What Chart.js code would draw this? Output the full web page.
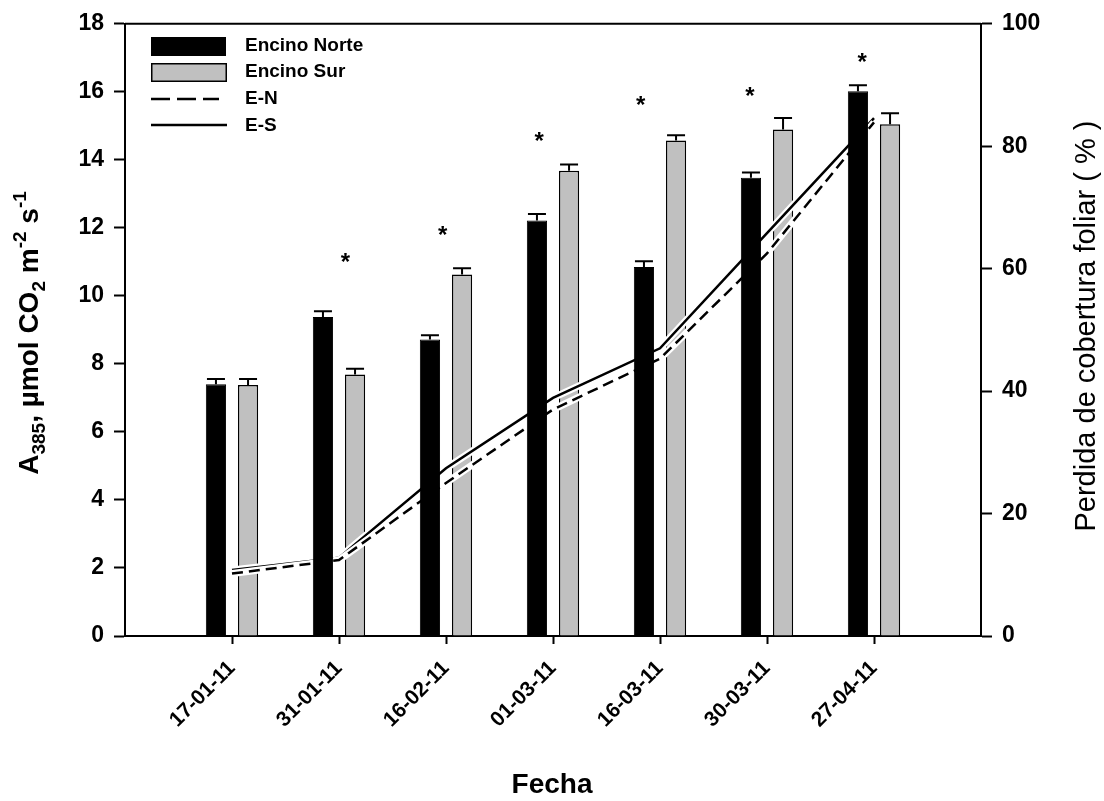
<!DOCTYPE html>
<html><head><meta charset="utf-8">
<script src="https://cdn.jsdelivr.net/npm/chart.js@4.4.1/dist/chart.umd.min.js"></script>
<style>html,body{margin:0;padding:0;background:#fff;}#wrap{width:1104px;height:801px;}</style>
</head><body><div id="wrap"><canvas id="c" width="1104" height="801"></canvas></div>
<script>
// Fechas de muestreo
const fechas = ['17-01-11', '31-01-11', '16-02-11', '01-03-11', '16-03-11', '30-03-11', '27-04-11'];
// Asimilación A385 (µmol CO2 m-2 s-1) y error estándar
const encinoNorte = [7.40, 9.38, 8.72, 12.22, 10.85, 13.47, 16.02];
const encinoNorteErr = [0.16, 0.17, 0.12, 0.19, 0.17, 0.16, 0.17];
const encinoSur = [7.38, 7.69, 10.63, 13.68, 14.57, 14.89, 15.05];
const encinoSurErr = [0.18, 0.17, 0.18, 0.18, 0.15, 0.34, 0.32];
// Pérdida de cobertura foliar (%)
const perdidaEN = [10.2, 12.4, 25.0, 37.0, 45.3, 62.5, 83.9];
const perdidaES = [10.8, 12.8, 27.4, 38.9, 47.0, 65.8, 84.6];
// Diferencias significativas (*)
const asteriscoX = [2.06, 2.97, 3.87, 4.82, 5.84, 6.89];
const asteriscoY = [11.16, 11.97, 14.73, 15.79, 16.05, 17.04];
const leftTicks = [0, 2, 4, 6, 8, 10, 12, 14, 16, 18];
const rightTicks = [0, 20, 40, 60, 80, 100];

const FONT = "'Liberation Sans', Arial, Helvetica, sans-serif";
Chart.defaults.font.family = FONT;
Chart.defaults.color = '#000';

const pts = arr => arr.map((v, i) => ({ x: i + 1, y: v }));
const errores = { 'Encino Norte': encinoNorteErr, 'Encino Sur': encinoSurErr };

// Barras de error (solo hacia arriba)
const errorBars = {
  id: 'errorBars',
  afterDatasetDraw(chart, args) {
    const ds = chart.data.datasets[args.index];
    const err = errores[ds.label];
    if (!err) return;
    const ctx = chart.ctx, ys = chart.scales.y;
    ctx.save();
    ctx.strokeStyle = '#000';
    ctx.lineWidth = 2;
    args.meta.data.forEach((bar, i) => {
      const top = ys.getPixelForValue(ds.data[i].y + err[i]);
      ctx.beginPath();
      ctx.moveTo(bar.x, bar.y);
      ctx.lineTo(bar.x, top);
      ctx.moveTo(bar.x - 9, top);
      ctx.lineTo(bar.x + 9, top);
      ctx.stroke();
    });
    ctx.restore();
  }
};

// Contorno blanco bajo las líneas
const halo = {
  id: 'halo',
  beforeDatasetDraw(chart, args) {
    const ds = chart.data.datasets[args.index];
    if (ds.type !== 'line') return;
    const ctx = chart.ctx;
    ctx.save();
    ctx.strokeStyle = '#fff';
    ctx.lineWidth = 7;
    ctx.lineJoin = 'round';
    ctx.beginPath();
    args.meta.data.forEach((p, i) => i ? ctx.lineTo(p.x, p.y) : ctx.moveTo(p.x, p.y));
    ctx.stroke();
    ctx.restore();
  }
};

function richText(ctx, parts, size, weight) {
  const fontFor = k => `${weight} ${k === 'n' ? size : size * 0.68}px ${FONT}`;
  const w = parts.map(p => { ctx.font = fontFor(p.k); return ctx.measureText(p.t).width; });
  const total = w.reduce((a, b) => a + b, 0);
  let x = -total / 2;
  parts.forEach((p, i) => {
    ctx.font = fontFor(p.k);
    const dy = p.k === 'sub' ? size * 0.25 : p.k === 'sup' ? -size * 0.42 : 0;
    ctx.fillText(p.t, x, dy);
    x += w[i];
  });
}

const decor = {
  id: 'decor',
  afterDraw(chart) {
    const ctx = chart.ctx, a = chart.chartArea;
    const xs = chart.scales.x, ys = chart.scales.y;
    ctx.save();
    ctx.fillStyle = '#000';
    ctx.strokeStyle = '#000';
    // marco superior
    ctx.lineWidth = 2;
    ctx.beginPath();
    ctx.moveTo(a.left, a.top);
    ctx.lineTo(a.right, a.top);
    ctx.stroke();

    // asteriscos
    ctx.font = `bold 24px ${FONT}`;
    ctx.textAlign = 'center';
    ctx.textBaseline = 'alphabetic';
    asteriscoX.forEach((v, i) => {
      ctx.fillText('*', xs.getPixelForValue(v), ys.getPixelForValue(asteriscoY[i]) + 24 * 0.57);
    });

    // leyenda
    ctx.fillStyle = '#000';
    ctx.fillRect(151, 37, 75, 19);
    ctx.fillStyle = '#c0c0c0';
    ctx.fillRect(151, 63, 75, 18);
    ctx.lineWidth = 1.5;
    ctx.strokeRect(151.75, 63.75, 74.5, 17.5);
    ctx.lineWidth = 2.5;
    ctx.setLineDash([19, 7]);
    ctx.beginPath(); ctx.moveTo(151, 99); ctx.lineTo(219, 99); ctx.stroke();
    ctx.setLineDash([]);
    ctx.beginPath(); ctx.moveTo(151, 125); ctx.lineTo(227, 125); ctx.stroke();
    ctx.fillStyle = '#000';
    ctx.font = `bold 19px ${FONT}`;
    ctx.textAlign = 'left';
    ctx.textBaseline = 'middle';
    ['Encino Norte', 'Encino Sur', 'E-N', 'E-S'].forEach((t, i) => {
      ctx.fillText(t, 245, [46, 72, 99, 126][i]);
    });

    // título eje x
    ctx.font = `bold 28px ${FONT}`;
    ctx.textAlign = 'center';
    ctx.textBaseline = 'alphabetic';
    ctx.fillText('Fecha', 552, 793);

    // título eje izquierdo
    ctx.save();
    ctx.translate(38, 333);
    ctx.rotate(-Math.PI / 2);
    ctx.textAlign = 'left';
    ctx.textBaseline = 'alphabetic';
    richText(ctx, [
      { t: 'A', k: 'n' }, { t: '385', k: 'sub' }, { t: ', µmol CO', k: 'n' }, { t: '2', k: 'sub' },
      { t: ' m', k: 'n' }, { t: '-2', k: 'sup' }, { t: ' s', k: 'n' }, { t: '-1', k: 'sup' }
    ], 28, 'bold');
    ctx.restore();

    // título eje derecho
    ctx.save();
    ctx.translate(1095, 326);
    ctx.rotate(-Math.PI / 2);
    ctx.font = `29px ${FONT}`;
    ctx.textAlign = 'center';
    ctx.textBaseline = 'alphabetic';
    ctx.fillText('Perdida de cobertura foliar ( % )', 0, 0);
    ctx.restore();

    ctx.restore();
  }
};

const axisGrid = len => ({ offset: false, drawOnChartArea: false, drawTicks: true, tickLength: len, tickWidth: 2, tickColor: '#000' });
const axisBorder = { display: true, color: '#000', width: 2 };

new Chart(document.getElementById('c'), {
  type: 'bar',
  data: {
    datasets: [
      { type: 'bar', label: 'Encino Norte', data: pts(encinoNorte), backgroundColor: '#000', borderColor: '#000', borderWidth: 1, yAxisID: 'y', order: 0 },
      { type: 'line', label: 'E-N', data: pts(perdidaEN), borderColor: '#000', borderWidth: 2.5, borderDash: [11, 6], pointRadius: 0, tension: 0, fill: false, yAxisID: 'y2', order: 1 },
      { type: 'line', label: 'E-S', data: pts(perdidaES), borderColor: '#000', borderWidth: 2.5, pointRadius: 0, tension: 0, fill: false, yAxisID: 'y2', order: 1 },
      { type: 'bar', label: 'Encino Sur', data: pts(encinoSur), backgroundColor: '#c0c0c0', borderColor: '#000', borderWidth: 1.5, yAxisID: 'y', order: 2 }
    ]
  },
  options: {
    responsive: false,
    animation: false,
    devicePixelRatio: 1,
    categoryPercentage: 0.6,
    barPercentage: 0.63,
    layout: { padding: { top: 17, left: 0, right: 0, bottom: 0 } },
    plugins: { legend: { display: false }, tooltip: { enabled: false } },
    scales: {
      x: {
        type: 'linear', min: 0, max: 8, offset: false,
        afterBuildTicks: s => { s.ticks = fechas.map((f, i) => ({ value: i + 1 })); },
        ticks: { autoSkip: false, minRotation: 45, maxRotation: 45, padding: 12, color: '#000',
          font: { size: 21, weight: 'bold' }, callback: (v, i) => fechas[i] },
        grid: axisGrid(8), border: axisBorder,
        afterFit: s => { s.height = 165; }
      },
      y: {
        position: 'left', min: 0, max: 18,
        afterBuildTicks: s => { s.ticks = leftTicks.map(v => ({ value: v })); },
        ticks: { padding: 10, color: '#000', font: { size: 23, weight: 'bold' } },
        grid: axisGrid(11), border: axisBorder,
        afterFit: s => { s.width = 125; }
      },
      y2: {
        position: 'right', min: 0, max: 100,
        afterBuildTicks: s => { s.ticks = rightTicks.map(v => ({ value: v })); },
        ticks: { padding: 10, color: '#000', font: { size: 23, weight: 'bold' } },
        grid: axisGrid(11), border: axisBorder,
        afterFit: s => { s.width = 123; }
      }
    }
  },
  plugins: [halo, errorBars, decor]
});
</script>
</body></html>
